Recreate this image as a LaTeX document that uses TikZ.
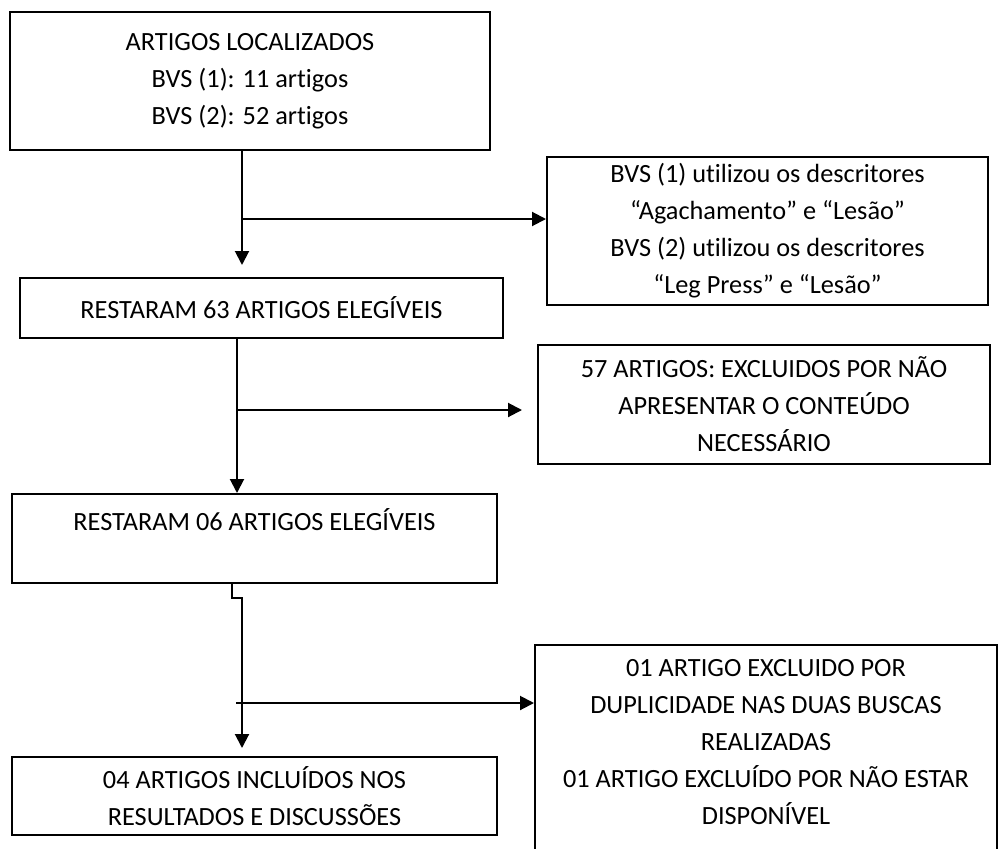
\documentclass[tikz,border=0pt]{standalone}
\usepackage{fontspec}
\setmainfont{Carlito}[Ligatures=NoCommon]
\usetikzlibrary{arrows.meta}
\begin{document}
\begin{tikzpicture}[x=1pt,y=-1pt,
  box/.style={draw=black, line width=2pt, rectangle, align=center, inner sep=0pt,
    font=\fontsize{26.3}{37}\selectfont},
  arr/.style={draw=black, line width=2pt, -{Triangle[length=14pt,width=14pt]}},
  conn/.style={draw=black, line width=2pt}]
\clip (0,0) rectangle (1008,848);
\useasboundingbox (0,0) rectangle (1008,848);
\fill[white] (0,0) rectangle (1008,848);

\node[box, minimum width=480, minimum height=138] (box1) at (250,81)
  {ARTIGOS LOCALIZADOS\\BVS (1): 11 artigos\\BVS (2): 52 artigos};
\node[box, minimum width=441, minimum height=148] (box2) at (767.5,231)
  {BVS (1) utilizou os descritores\\“Agachamento” e “Lesão”\\BVS (2) utilizou os descritores\\“Leg Press” e “Lesão”};
\node[box, minimum width=483, minimum height=60] (box3) at (261.5,308)
  {RESTARAM 63 ARTIGOS ELEGÍVEIS};
\node[box, minimum width=452, minimum height=119] (box4) at (764,404)
  {57 ARTIGOS: EXCLUIDOS POR NÃO\\APRESENTAR O CONTEÚDO\\NECESSÁRIO};
\node[box, minimum width=485, minimum height=89] (box5) at (254.5,538.5)
  {RESTARAM 06 ARTIGOS ELEGÍVEIS\\\mbox{}};
\node[box, minimum width=485, minimum height=78] (box6) at (254.5,796)
  {04 ARTIGOS INCLUÍDOS NOS\\RESULTADOS E DISCUSSÕES};
\node[box, minimum width=462, minimum height=231] (box7) at (766,760.5)
  {01 ARTIGO EXCLUIDO POR\\DUPLICIDADE NAS DUAS BUSCAS\\REALIZADAS\\01 ARTIGO EXCLUÍDO POR NÃO ESTAR\\DISPONÍVEL\\\mbox{}};

% first connector
\coordinate (a1) at (242,150);
\coordinate (a1e) at (242,265);
\coordinate (b1) at (242,219);
\draw[arr] (a1 |- box1.south) -- (a1e);
\draw[arr] (b1) -- (b1 -| box2.west);

% second connector
\coordinate (a2) at (237,338);
\coordinate (a2e) at (237,492);
\coordinate (b2) at (237,410);
\coordinate (b2e) at (522,410);
\draw[arr] (a2 |- box3.south) -- (a2e |- box5.north);
\draw[arr] (b2) -- (b2e);

% third connector with jog
\coordinate (a3) at (232,583);
\coordinate (j1) at (232,598);
\coordinate (j2) at (242,598);
\coordinate (a3e) at (242,748);
\coordinate (b3) at (236,703);
\draw[arr] (a3 |- box5.south) -- (j1) -- (j2) -- (a3e);
\draw[arr] (b3) -- (b3 -| box7.west);
\end{tikzpicture}
\end{document}
